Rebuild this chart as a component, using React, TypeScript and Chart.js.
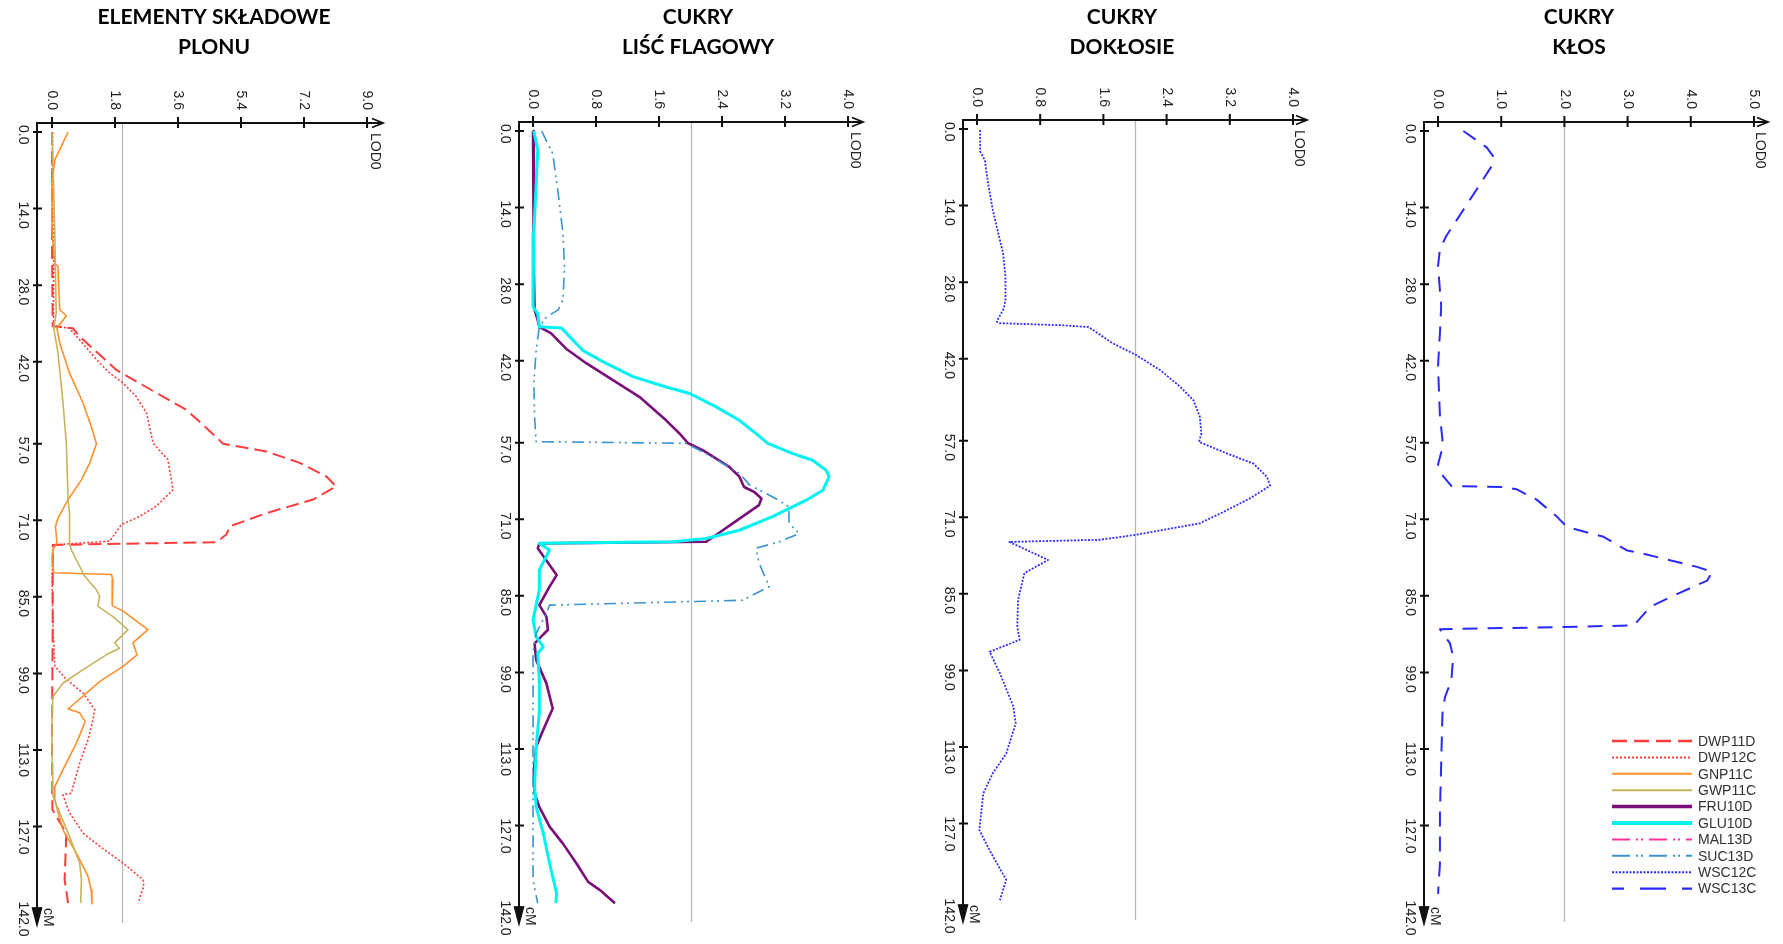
import React, { useEffect, useRef } from "react";
import { Chart, registerables } from "chart.js";

Chart.register(...registerables);

// ---------- axis ticks ----------
const CM_TICKS = [0, 14, 28, 42, 57, 71, 85, 99, 113, 127, 142];
const CM_TICK_LABELS = ["0.0", "14.0", "28.0", "42.0", "57.0", "71.0", "85.0", "99.0", "113.0", "127.0", "142.0"];
const CM_MIN = -1.65;
const CM_MAX = 145;

const YIELD_LOD_TICKS = [0, 1.8, 3.6, 5.4, 7.2, 9.0];
const YIELD_LOD_LABELS = ["0.0", "1.8", "3.6", "5.4", "7.2", "9.0"];
const SUGAR_LOD_TICKS = [0, 0.8, 1.6, 2.4, 3.2, 4.0];
const SUGAR_LOD_LABELS = ["0.0", "0.8", "1.6", "2.4", "3.2", "4.0"];
const EAR_LOD_TICKS = [0, 1, 2, 3, 4, 5];
const EAR_LOD_LABELS = ["0.0", "1.0", "2.0", "3.0", "4.0", "5.0"];
const LOD_THRESHOLD = 2.0;

const TITLE_YIELD = ["ELEMENTY SKŁADOWE", "PLONU"];
const TITLE_FLAG = ["CUKRY", "LIŚĆ FLAGOWY"];
const TITLE_PEDUNCLE = ["CUKRY", "DOKŁOSIE"];
const TITLE_EAR = ["CUKRY", "KŁOS"];

const LEGEND_NAMES = ["DWP11D", "DWP12C", "GNP11C", "GWP11C", "FRU10D", "GLU10D", "MAL13D", "SUC13D", "WSC12C", "WSC13C"];

// ---------- series (cM position, LOD value) ----------
const DWP11D_CM = [0, 8, 20, 35.5, 35.9, 37.4, 43.5, 47.7, 50.8, 54.1, 57.0, 58.4, 60.5, 63.0, 64.8, 67.2, 69.7, 72.1, 73.6, 75.0, 75.5, 90, 110, 123.9, 125.1, 128.2, 136.7, 141.0];
const DWP11D_LOD = [0, 0.01, 0, 0.02, 0.6, 0.79, 1.84, 2.98, 3.84, 4.41, 4.89, 6.12, 7.08, 7.84, 8.12, 7.46, 6.12, 5.08, 4.98, 4.7, 0.02, 0.02, 0.0, 0.01, 0.12, 0.41, 0.36, 0.46];

const DWP12C_CM = [0, 8, 18, 25, 32, 35.4, 35.9, 38.0, 41.6, 44.1, 45.9, 48.4, 51.4, 56.9, 59.9, 65.4, 68.4, 70.3, 71.8, 74.8, 75.5, 81.9, 91.0, 97.7, 100.1, 102.6, 105.6, 107.5, 111.1, 115.4, 120.9, 121.2, 124.5, 128.2, 130.6, 133.7, 136.7, 137.9, 141.0];
const DWP12C_LOD = [0.02, 0.0, 0.03, 0.05, 0.04, 0.05, 0.5, 0.79, 1.27, 1.65, 2.03, 2.41, 2.7, 2.89, 3.31, 3.46, 2.98, 2.5, 1.98, 1.65, 0.03, 0.0, 0.03, 0.08, 0.41, 0.89, 1.22, 1.17, 1.03, 0.79, 0.55, 0.31, 0.5, 0.89, 1.36, 2.03, 2.6, 2.62, 2.46];

const GNP11C_CM = [0, 5.1, 9.3, 18.5, 24.0, 24.6, 32.5, 33.6, 35.9, 38.6, 44.1, 49.6, 53.8, 57.0, 60.5, 63.6, 67.2, 70.6, 72.1, 75.1, 76.4, 77.9, 80.6, 80.9, 81.9, 86.6, 87.6, 91.0, 93.4, 95.6, 97.7, 100.5, 105.5, 106.2, 107.8, 111.7, 116.0, 119.7, 122.1, 127.6, 131.9, 136.1, 138.6, 141.1];
const GNP11C_LOD = [0.46, 0.08, 0.0, 0.0, 0.08, 0.17, 0.22, 0.41, 0.14, 0.22, 0.5, 0.89, 1.12, 1.27, 1.08, 0.84, 0.46, 0.17, 0.1, 0.14, 0.03, 0.0, 0.05, 1.7, 1.74, 1.72, 2.03, 2.74, 2.31, 2.43, 2.03, 1.36, 0.46, 0.79, 0.95, 0.7, 0.36, 0.08, 0.08, 0.31, 0.7, 1.03, 1.12, 1.14];

const GWP11C_CM = [0, 6.3, 18.5, 33.1, 35.9, 40.4, 49.2, 57.0, 67.3, 69.7, 75.1, 76.4, 79.4, 81.2, 83.7, 84.9, 86.7, 88.6, 91.0, 93.4, 94.4, 95.6, 98.3, 100.8, 103.2, 106.2, 112.3, 121.5, 124.5, 128.8, 133.7, 136.7, 141.0];
const GWP11C_LOD = [0, 0.03, 0.08, 0.12, 0.05, 0.17, 0.31, 0.41, 0.46, 0.5, 0.5, 0.55, 0.79, 0.93, 1.27, 1.36, 1.31, 1.74, 2.17, 1.79, 1.93, 1.55, 0.89, 0.31, 0.03, 0, 0, 0.03, 0.22, 0.5, 0.79, 0.84, 0.82];

const FRU10D_CM = [0, 24.8, 32.7, 34.6, 35.8, 37.0, 39.8, 42.5, 45.5, 48.6, 52.9, 55.3, 57.1, 58.4, 61.4, 63.2, 65.1, 66.0, 67.2, 68.4, 71.7, 73.0, 75.1, 75.4, 76.3, 81.2, 83.3, 86.7, 88.8, 91.2, 93.7, 96.7, 101.0, 105.6, 109.5, 112.6, 116.9, 121.1, 123.6, 127.2, 130.3, 133.9, 137.3, 138.8, 141.2];
const FRU10D_LOD = [0, 0.01, 0.02, 0.06, 0.08, 0.23, 0.42, 0.68, 1.01, 1.35, 1.69, 1.86, 1.97, 2.16, 2.49, 2.62, 2.68, 2.81, 2.9, 2.87, 2.54, 2.41, 2.2, 0.08, 0.06, 0.3, 0.21, 0.08, 0.17, 0.19, 0.02, 0.04, 0.17, 0.25, 0.13, 0.04, 0.01, 0.02, 0.08, 0.21, 0.38, 0.55, 0.7, 0.85, 1.04];

const GLU10D_CM = [0, 3.5, 9.6, 18.7, 24.2, 32.1, 33.4, 35.8, 36.0, 40.1, 42.5, 44.9, 46.8, 48.0, 50.4, 52.9, 55.3, 57.1, 59.0, 60.2, 62.0, 63.2, 65.7, 67.5, 70.5, 73.0, 74.5, 75.1, 75.4, 76.6, 80.3, 83.9, 89.4, 92.5, 94.3, 95.5, 100.4, 106.5, 112.6, 119.9, 123.6, 128.4, 133.9, 139.4, 141.2];
const GLU10D_LOD = [0.01, 0.06, 0.04, 0.01, 0, 0, 0.06, 0.08, 0.36, 0.63, 0.93, 1.27, 1.69, 1.99, 2.32, 2.62, 2.83, 2.98, 3.3, 3.55, 3.72, 3.76, 3.68, 3.47, 3.04, 2.62, 2.2, 1.78, 0.08, 0.21, 0.08, 0.08, 0, 0.04, 0.13, 0.06, 0.08, 0.08, 0.04, 0.02, 0.04, 0.13, 0.21, 0.3, 0.29];

const SUC13D_CM = [0, 4.1, 11.4, 18.7, 24.8, 30.9, 32.7, 34.0, 35.8, 40.1, 46.2, 52.3, 56.8, 57.1, 59.0, 62.6, 64.7, 67.2, 68.7, 71.7, 73.6, 75.1, 76.3, 79.0, 83.3, 85.8, 86.7, 88.2, 91.9, 95.5, 100.4, 118.7, 137.0, 141.2];
const SUC13D_LOD = [0.11, 0.25, 0.32, 0.38, 0.4, 0.38, 0.32, 0.17, 0.08, 0.04, 0.01, 0.02, 0.04, 1.94, 2.2, 2.62, 2.75, 3.08, 3.25, 3.25, 3.38, 3.13, 2.83, 2.87, 3.0, 2.66, 0.21, 0.17, 0.04, 0, 0, 0, 0, 0.06];

const WSC12C_CM = [0.2, 4.1, 5.7, 9.9, 14.8, 19.1, 22.7, 27.0, 31.3, 32.8, 35.2, 35.5, 35.9, 36.2, 39.2, 41.3, 44.1, 47.1, 49.6, 52.6, 55.7, 57.2, 59.3, 61.2, 63.6, 65.2, 67.5, 70.3, 72.1, 74.2, 75.1, 75.5, 78.8, 81.2, 86.1, 91.0, 93.4, 95.6, 99.5, 105.6, 108.7, 114.2, 117.8, 121.5, 128.2, 131.9, 137.3, 141.0];
const WSC12C_LOD = [0.04, 0.04, 0.1, 0.14, 0.2, 0.27, 0.33, 0.36, 0.36, 0.34, 0.25, 0.29, 1.09, 1.41, 1.72, 2.01, 2.32, 2.57, 2.74, 2.82, 2.84, 2.81, 3.16, 3.5, 3.67, 3.71, 3.46, 3.08, 2.82, 2.01, 1.56, 0.41, 0.9, 0.6, 0.52, 0.51, 0.54, 0.16, 0.29, 0.46, 0.49, 0.37, 0.2, 0.08, 0.03, 0.16, 0.37, 0.29];

const WSC13C_CM = [0, 3.0, 4.6, 6.4, 10.7, 15.5, 19.2, 21.6, 24.7, 32.0, 36.9, 43.0, 52.1, 56.4, 58.8, 61.0, 63.1, 64.9, 65.1, 65.5, 67.4, 70.5, 72.4, 74.2, 76.7, 77.3, 79.7, 80.6, 82.2, 85.2, 87.0, 90.4, 90.7, 91.1, 93.7, 96.2, 100.5, 103.5, 106.5, 115.7, 124.8, 134.0, 139.5];
const WSC13C_LOD = [0.4, 0.77, 0.87, 0.85, 0.61, 0.34, 0.13, 0.03, 0, 0.05, 0.03, 0, 0.03, 0.07, 0.05, 0, 0.08, 0.21, 1.03, 1.24, 1.56, 1.88, 2.04, 2.62, 2.99, 3.25, 4.1, 4.34, 4.26, 3.68, 3.36, 3.1, 1.93, 0.03, 0.19, 0.24, 0.21, 0.11, 0.07, 0.05, 0.03, 0.03, 0];

// ---------- styles ----------
type Style = { color: string; width: number; dash: number[]; legendWidth: number; legendDash: number[]; legendOffset?: number };
const STYLES: Record<string, Style> = {
  DWP11D: { color: "#FF3B3B", width: 2, dash: [13, 6], legendWidth: 2.4, legendDash: [15, 7] },
  DWP12C: { color: "#FF3B3B", width: 1.6, dash: [2, 2], legendWidth: 2, legendDash: [2, 2] },
  GNP11C: { color: "#FF8F2A", width: 1.6, dash: [], legendWidth: 2, legendDash: [] },
  GWP11C: { color: "#C6B35E", width: 1.6, dash: [], legendWidth: 2, legendDash: [] },
  FRU10D: { color: "#7A0F7A", width: 2.6, dash: [], legendWidth: 3.5, legendDash: [] },
  GLU10D: { color: "#00F2F2", width: 3, dash: [], legendWidth: 4, legendDash: [] },
  MAL13D: { color: "#FF3399", width: 1.6, dash: [12, 5, 2, 4, 2, 5], legendWidth: 2, legendDash: [18, 6, 2, 3, 2, 6] },
  SUC13D: { color: "#3B93D0", width: 1.6, dash: [12, 5, 2, 4, 2, 5], legendWidth: 2, legendDash: [18, 6, 2, 3, 2, 6] },
  WSC12C: { color: "#2E2EFF", width: 1.8, dash: [2, 1.5], legendWidth: 2, legendDash: [2, 1.5] },
  WSC13C: { color: "#2A2AFF", width: 2, dash: [15, 10], legendWidth: 2.4, legendDash: [26, 16], legendOffset: 14 },
};

type Series = { name: string; cm: number[]; lod: number[] };
type Panel = {
  left: number; width: number;
  pad: { left: number; top: number; right: number; bottom: number };
  xMin: number; xMax: number;
  lodTicks: number[]; lodLabels: string[];
  title: string[]; titleX: number;
  series: Series[];
  legend?: { x0: number; x1: number; tx: number; y0: number; row: number };
};

const PANELS: Panel[] = [
  {
    left: 0, width: 440, pad: { left: 37, top: 123, right: 57, bottom: 19 },
    xMin: -0.429, xMax: 9.457, lodTicks: YIELD_LOD_TICKS, lodLabels: YIELD_LOD_LABELS,
    title: TITLE_YIELD, titleX: 214,
    series: [
      { name: "GWP11C", cm: GWP11C_CM, lod: GWP11C_LOD },
      { name: "GNP11C", cm: GNP11C_CM, lod: GNP11C_LOD },
      { name: "DWP12C", cm: DWP12C_CM, lod: DWP12C_LOD },
      { name: "DWP11D", cm: DWP11D_CM, lod: DWP11D_LOD },
    ],
  },
  {
    left: 440, width: 450, pad: { left: 79, top: 122, right: 27, bottom: 20 },
    xMin: -0.178, xMax: 4.19, lodTicks: SUGAR_LOD_TICKS, lodLabels: SUGAR_LOD_LABELS,
    title: TITLE_FLAG, titleX: 698,
    series: [
      { name: "SUC13D", cm: SUC13D_CM, lod: SUC13D_LOD },
      { name: "GLU10D", cm: GLU10D_CM, lod: GLU10D_LOD },
      { name: "FRU10D", cm: FRU10D_CM, lod: FRU10D_LOD },
    ],
  },
  {
    left: 890, width: 450, pad: { left: 73, top: 120, right: 33, bottom: 22 },
    xMin: -0.177, xMax: 4.177, lodTicks: SUGAR_LOD_TICKS, lodLabels: SUGAR_LOD_LABELS,
    title: TITLE_PEDUNCLE, titleX: 1122,
    series: [{ name: "WSC12C", cm: WSC12C_CM, lod: WSC12C_LOD }],
  },
  {
    left: 1340, width: 443, pad: { left: 84, top: 122, right: 15, bottom: 20 },
    xMin: -0.222, xMax: 5.222, lodTicks: EAR_LOD_TICKS, lodLabels: EAR_LOD_LABELS,
    title: TITLE_EAR, titleX: 1579,
    series: [{ name: "WSC13C", cm: WSC13C_CM, lod: WSC13C_LOD }],
    legend: { x0: 272, x1: 352, tx: 358, y0: 741, row: 16.4 },
  },
];

const LABEL_FONT = '14px "Liberation Sans", Arial, sans-serif';
const TITLE_FONT = 'bold 21px Lato, "Open Sans", sans-serif';

function makeFramePlugin(p: Panel) {
  return {
    id: "lodFrame",
    beforeDatasetsDraw(chart: any) {
      const { ctx, chartArea: ca, scales } = chart;
      const px = Math.round(scales.x.getPixelForValue(LOD_THRESHOLD)) + 0.5;
      ctx.save();
      ctx.strokeStyle = "#b8b8b8";
      ctx.lineWidth = 1.3;
      ctx.beginPath();
      ctx.moveTo(px, ca.top);
      ctx.lineTo(px, ca.bottom - 2);
      ctx.stroke();
      ctx.restore();
    },
    afterDatasetsDraw(chart: any) {
      const { ctx, chartArea: ca, scales } = chart;
      const xs = scales.x;
      const ys = scales.y;
      const ax = ca.left;
      const ay = ca.top;
      ctx.save();
      ctx.setLineDash([]);
      ctx.strokeStyle = "#111";
      ctx.fillStyle = "#111";
      ctx.lineWidth = 2;
      ctx.lineCap = "butt";
      ctx.beginPath();
      ctx.moveTo(ax - 1, ay);
      ctx.lineTo(ca.right - 1, ay);
      ctx.moveTo(ax, ay - 1);
      ctx.lineTo(ax, ca.bottom - 4);
      ctx.stroke();
      // ticks
      ctx.beginPath();
      p.lodTicks.forEach((v) => {
        const px = xs.getPixelForValue(v);
        ctx.moveTo(px, ay - 6);
        ctx.lineTo(px, ay + 5);
      });
      CM_TICKS.forEach((v) => {
        const py = ys.getPixelForValue(v);
        ctx.moveTo(ax - 4, py);
        ctx.lineTo(ax + 5, py);
      });
      ctx.stroke();
      // right arrow
      ctx.lineWidth = 1.8;
      ctx.beginPath();
      ctx.moveTo(ca.right - 11, ay - 4.5);
      ctx.lineTo(ca.right, ay);
      ctx.lineTo(ca.right - 11, ay + 4.5);
      ctx.stroke();
      // bottom arrow
      ctx.lineWidth = 1.5;
      ctx.beginPath();
      ctx.moveTo(ax - 4.5, ca.bottom - 17);
      ctx.lineTo(ax, ca.bottom);
      ctx.lineTo(ax + 4.5, ca.bottom - 17);
      ctx.closePath();
      ctx.fill();
      ctx.stroke();

      // labels
      ctx.font = LABEL_FONT;
      ctx.fillStyle = "#222";
      ctx.textBaseline = "middle";
      p.lodTicks.forEach((v, i) => {
        const px = xs.getPixelForValue(v);
        ctx.save();
        ctx.translate(px, ay - 13);
        ctx.rotate(Math.PI / 2);
        ctx.textAlign = "right";
        ctx.fillText(p.lodLabels[i], 0, 0);
        ctx.restore();
      });
      CM_TICKS.forEach((v, i) => {
        const py = ys.getPixelForValue(v);
        ctx.save();
        ctx.translate(ax - 14, py - 7);
        ctx.rotate(Math.PI / 2);
        ctx.textAlign = "left";
        ctx.fillText(CM_TICK_LABELS[i], 0, 0);
        ctx.restore();
      });
      ctx.save();
      ctx.translate(ca.right - 8, ay + 10);
      ctx.rotate(Math.PI / 2);
      ctx.textAlign = "left";
      ctx.fillText("LOD0", 0, 0);
      ctx.restore();
      ctx.save();
      ctx.translate(ax + 11, ca.bottom - 17);
      ctx.rotate(Math.PI / 2);
      ctx.textAlign = "left";
      ctx.fillText("cM", 0, 0);
      ctx.restore();

      // title
      ctx.font = TITLE_FONT;
      ctx.fillStyle = "#000";
      ctx.textAlign = "center";
      ctx.textBaseline = "alphabetic";
      const cx = p.titleX - p.left;
      ctx.fillText(p.title[0], cx, 23.5);
      ctx.fillText(p.title[1], cx, 53.5);

      // legend
      if (p.legend) {
        const lg = p.legend;
        LEGEND_NAMES.forEach((n, i) => {
          const st = STYLES[n];
          const yy = lg.y0 + i * lg.row;
          ctx.strokeStyle = st.color;
          ctx.lineWidth = st.legendWidth;
          ctx.setLineDash(st.legendDash);
          ctx.lineDashOffset = st.legendOffset || 0;
          ctx.beginPath();
          ctx.moveTo(lg.x0, yy);
          ctx.lineTo(lg.x1, yy);
          ctx.stroke();
          ctx.setLineDash([]);
          ctx.lineDashOffset = 0;
          ctx.font = LABEL_FONT;
          ctx.fillStyle = "#333";
          ctx.textAlign = "left";
          ctx.textBaseline = "middle";
          ctx.fillText(n, lg.tx, yy + 1);
        });
      }
      ctx.restore();
    },
  };
}

function PanelChart({ panel }: { panel: Panel }) {
  const ref = useRef<HTMLCanvasElement | null>(null);
  useEffect(() => {
    if (!ref.current) return;
    const datasets = panel.series.map((s) => {
      const st = STYLES[s.name];
      return {
        label: s.name,
        data: s.cm.map((c, i) => ({ x: s.lod[i], y: c })),
        borderColor: st.color,
        backgroundColor: st.color,
        borderWidth: st.width,
        borderDash: st.dash,
        borderCapStyle: "butt" as const,
        borderJoinStyle: "round" as const,
        showLine: true,
        pointRadius: 0,
        pointHoverRadius: 0,
        fill: false,
        tension: 0,
      };
    });
    const chart = new Chart(ref.current, {
      type: "scatter",
      data: { datasets },
      options: {
        animation: false,
        responsive: true,
        maintainAspectRatio: false,
        events: [],
        layout: { padding: panel.pad },
        scales: {
          x: { type: "linear", display: false, min: panel.xMin, max: panel.xMax },
          y: { type: "linear", display: false, min: CM_MIN, max: CM_MAX, reverse: true },
        },
        plugins: {
          legend: { display: false },
          tooltip: { enabled: false },
          title: { display: false },
        },
      },
      plugins: [makeFramePlugin(panel)],
    } as any);
    return () => chart.destroy();
  }, [panel]);
  return (
    <div style={{ position: "absolute", left: panel.left, top: 0, width: panel.width, height: 944 }}>
      <canvas ref={ref} style={{ display: "block" }} />
    </div>
  );
}

export default function App() {
  return (
    <div style={{ position: "absolute", left: 0, top: 0, width: 1783, height: 944, background: "#fff", overflow: "hidden" }}>
      {PANELS.map((p, i) => (
        <PanelChart key={i} panel={p} />
      ))}
    </div>
  );
}
